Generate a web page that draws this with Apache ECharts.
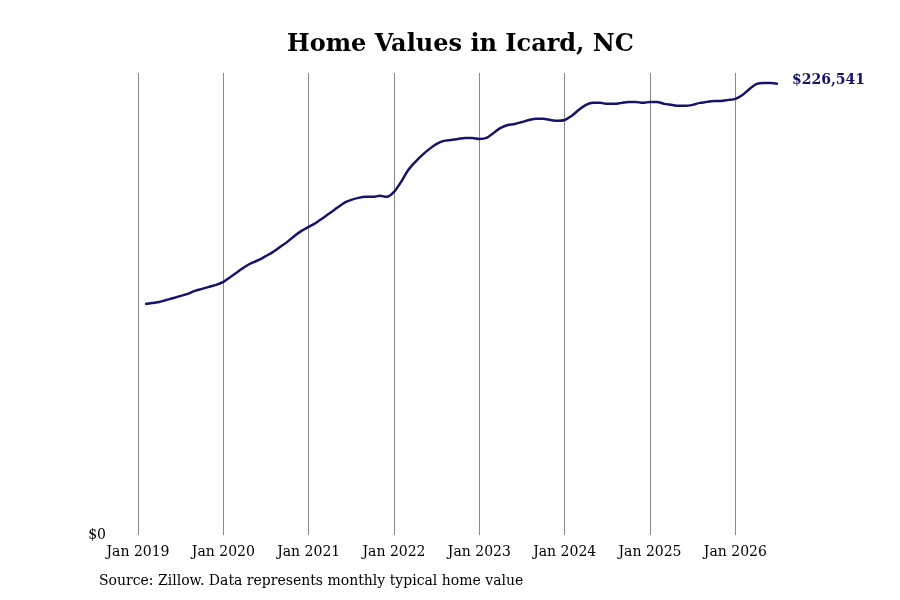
<!DOCTYPE html>
<html><head><meta charset="utf-8">
<script src="https://cdn.jsdelivr.net/npm/echarts@6/dist/echarts.min.js"></script>
<style>body{margin:0;background:#fff}#c{width:900px;height:600px}</style></head>
<body><div id="c"></div>
<script>
const startYear = 2019, startMonth = 1; // Feb 2019 (0-based month index)
const values = [
116000,116500,117000,118000,119000,120100,121100,122600,123600,124600,125600,
127100,129600,132100,134600,136600,138100,140100,142200,144700,147200,150200,152700,
154700,156700,159200,161700,164300,166800,168300,169300,169800,169800,170300,169800,
172300,177300,183300,187400,190900,193900,196400,197900,198400,198900,199400,199400,
198900,199400,201900,204400,205900,206400,207400,208400,209000,209000,208400,208000,
208400,210500,213500,216000,217000,217000,216500,216500,217000,217500,217500,217000,
217500,217500,216500,216000,215500,215500,216000,217000,217500,218000,218000,218500,
219000,221000,224000,226500,227000,227000,226541];
const data = values.map((v,i)=>[startYear + (startMonth+i)/12, v]);
const font = 'DejaVu Serif';
const chart = echarts.init(document.getElementById('c'));
chart.setOption({
  animation:false,
  title:{text:'Home Values in Icard, NC',left:282,top:28,textStyle:{fontFamily:font,fontSize:24,fontWeight:'bold',color:'#000'}},
  graphic:[{type:'text',left:99,top:574,style:{text:'Source: Zillow. Data represents monthly typical home value',font:'14px "DejaVu Serif"',fill:'#000'}}],
  grid:{left:138,right:122,top:73,bottom:65},
  xAxis:{type:'value',min:2019,max:2026.5,interval:1,
    axisLine:{show:false},axisTick:{show:false},
    axisLabel:{formatter:v=>'Jan '+Math.round(v),showMaxLabel:false,fontFamily:font,fontSize:14,color:'#000',margin:10},
    splitLine:{show:true,showMaxLine:false,lineStyle:{color:'#888',width:1}}},
  yAxis:{type:'value',min:0,max:232000,interval:232000,
    axisLine:{show:false},axisTick:{show:false},splitLine:{show:false},
    axisLabel:{formatter:v=>v===0?'$0':'',showMaxLabel:false,fontFamily:font,fontSize:14,color:'#000',margin:32,verticalAlign:'middle'}},
  series:[{type:'line',data:data,showSymbol:false,smooth:0.3,
    lineStyle:{color:'#14146b',width:2.5},
    endLabel:{show:true,formatter:'$226,541',fontFamily:font,fontWeight:'bold',fontSize:14,color:'#14146b',offset:[6,-4]}}]
});
</script></body></html>
